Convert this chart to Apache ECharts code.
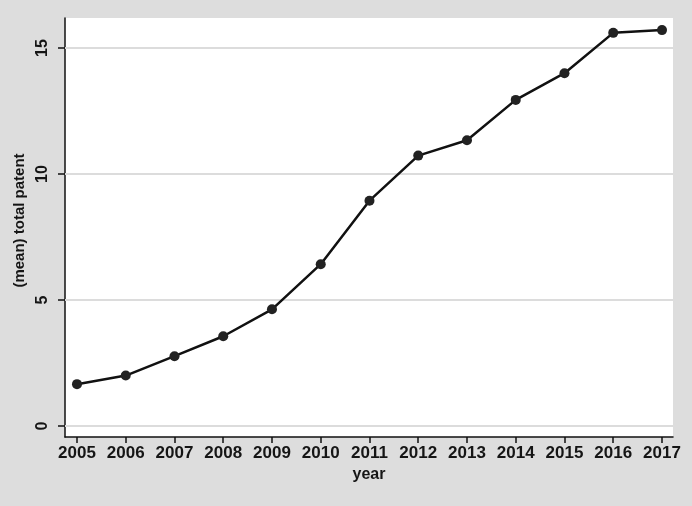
<!DOCTYPE html>
<html>
<head>
<meta charset="utf-8">
<script src="https://cdn.jsdelivr.net/npm/echarts@6/dist/echarts.min.js"></script>
<style>
html,body{margin:0;padding:0;background:#dddddd;}
#chart{width:692px;height:506px;}
</style>
</head>
<body>
<div id="chart"></div>
<script>
const years = [2005, 2006, 2007, 2008, 2009, 2010, 2011, 2012, 2013, 2014, 2015, 2016, 2017];
const meanPatent = [1.66, 2.0, 2.77, 3.56, 4.63, 6.42, 8.94, 10.73, 11.34, 12.94, 14.0, 15.6, 15.71];
const yTicks = [0, 5, 10, 15];
const xTitle = 'year';
const yTitle = '(mean) total patent';

const chart = echarts.init(document.getElementById('chart'));
const font = 'Liberation Sans, Arial, sans-serif';
chart.setOption({
  backgroundColor: '#dddddd',
  animation: false,
  grid: { left: 65, right: 19, top: 18, bottom: 69, show: true, backgroundColor: '#ffffff', borderWidth: 0 },
  xAxis: {
    type: 'value',
    min: 2004.754, max: 2017.226,
    name: xTitle, nameLocation: 'middle', nameGap: 26,
    nameTextStyle: { fontFamily: font, fontSize: 16, fontWeight: 'bold', color: '#151515' },
    axisLine: { show: true, onZero: false, lineStyle: { color: '#111', width: 1.5 } },
    axisTick: { show: true, length: 6, customValues: years, lineStyle: { color: '#111', width: 1.5 } },
    axisLabel: { customValues: years, margin: 8, fontFamily: font, fontSize: 17, fontWeight: 'bold', color: '#151515', formatter: v => String(v) },
    splitLine: { show: false }
  },
  yAxis: {
    type: 'value',
    min: -0.437, max: 16.19,
    name: yTitle, nameLocation: 'middle', nameGap: 33,
    nameTextStyle: { fontFamily: font, fontSize: 15, fontWeight: 'bold', color: '#151515', padding: [0, 0, 0, 14] },
    axisLine: { show: true, onZero: false, lineStyle: { color: '#111', width: 1.5 } },
    axisTick: { show: true, length: 7, customValues: yTicks, lineStyle: { color: '#111', width: 1.5 } },
    axisLabel: { customValues: yTicks, rotate: 90, margin: 14, fontFamily: font, fontSize: 16, fontWeight: 'bold', color: '#151515', formatter: v => String(v) },
    splitLine: { show: false }
  },
  series: [{
    type: 'line',
    data: [],
    z: 1,
    markLine: {
      silent: true, symbol: 'none', label: { show: false },
      lineStyle: { color: '#dcdcdc', width: 2, type: 'solid' },
      data: yTicks.map(v => ({ yAxis: v }))
    }
  }, {
    type: 'line',
    data: years.map((y, i) => [y, meanPatent[i]]),
    symbol: 'circle', symbolSize: 10,
    lineStyle: { color: '#111', width: 2.5 },
    itemStyle: { color: '#222' },
    z: 5
  }]
});
</script>
</body>
</html>
